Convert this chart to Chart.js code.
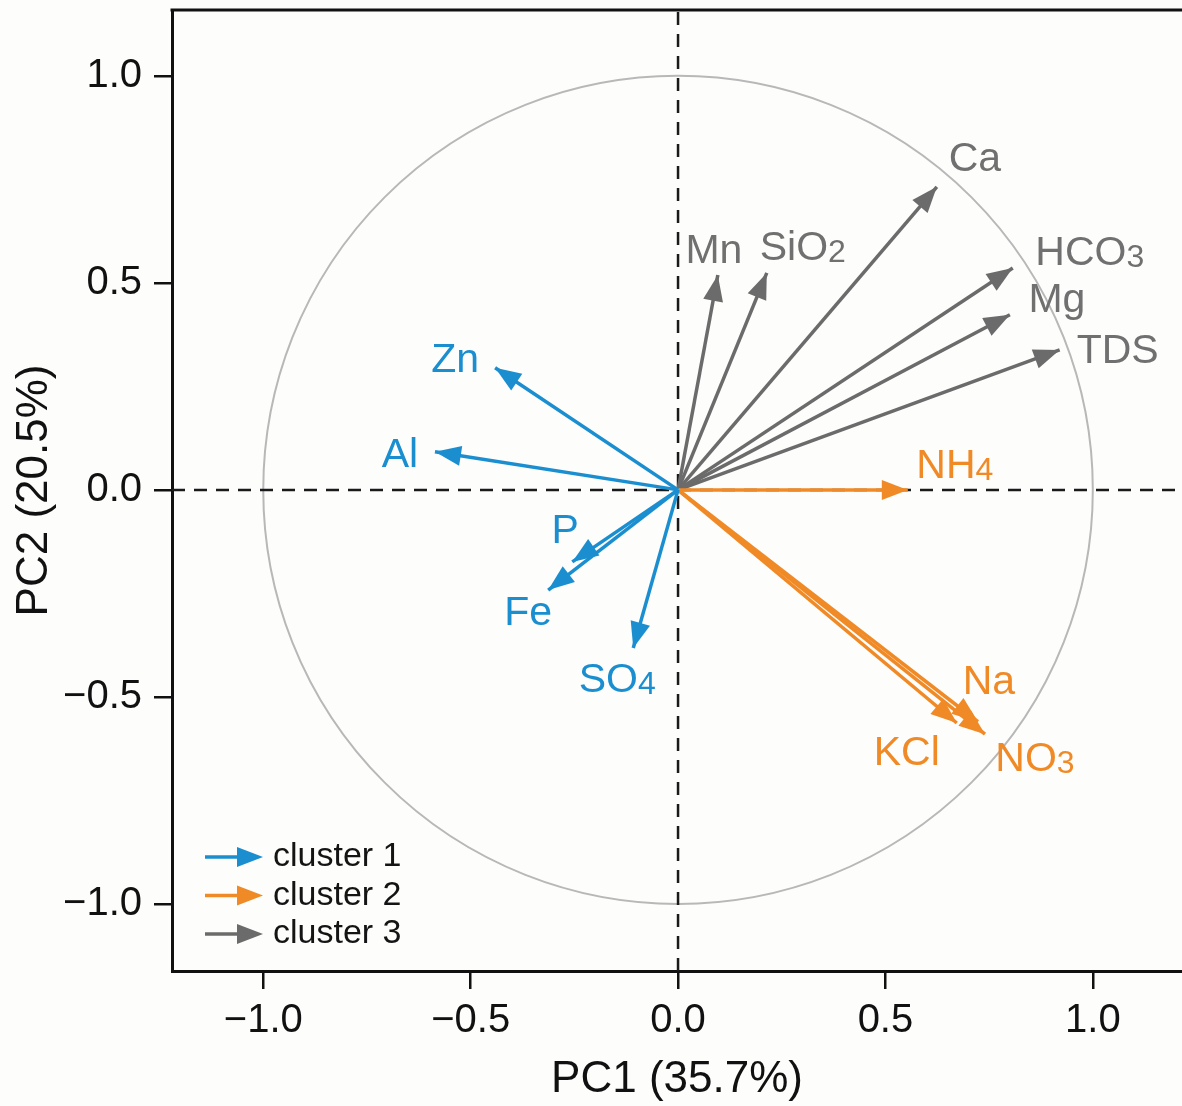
<!DOCTYPE html>
<html lang="en">
<head>
    <meta charset="UTF-8">
    <title>PCA biplot</title>
    <style>
        body { margin: 0; background: #fdfdfc; }
        #wrap { width: 1182px; height: 1106px; }
    </style>
    <script src="https://cdn.jsdelivr.net/npm/chart.js"></script>
</head>
<body>
    <div id="wrap"><canvas id="pca"></canvas></div>

    <script>
        // Loadings
        const variables = ["Zn", "Al", "P", "Fe", "SO4", "NH4", "Na", "KCl", "NO3", "Mn", "SiO2", "Ca", "HCO3", "Mg", "TDS"];
        const pc1 = [-0.441, -0.586, -0.255, -0.313, -0.108, 0.554, 0.723, 0.672, 0.740, 0.096, 0.214, 0.624, 0.807, 0.800, 0.920];
        const pc2 = [0.295, 0.092, -0.174, -0.242, -0.382, 0.000, -0.560, -0.563, -0.590, 0.519, 0.524, 0.732, 0.536, 0.423, 0.338];
        const clusterOf = [1, 1, 1, 1, 1, 2, 2, 2, 2, 3, 3, 3, 3, 3, 3];
        const clusterNames = ["cluster 1", "cluster 2", "cluster 3"];
        const tickValues = [-1.0, -0.5, 0.0, 0.5, 1.0];
        const xRange = [-1.22, 1.215];
        const yRange = [-1.162, 1.159];

        const clusterColors = { 1: "#1b8ed0", 2: "#f08a26", 3: "#6b6b6b" };
        const labelColors = { 1: "#1b8ed0", 2: "#f08a26", 3: "#707070" };

        // label placement relative to arrow tip, in pixels
        const labelOffset = {
            Zn: [-40, -10], Al: [-35, 0], P: [-7, -34], Fe: [-20, 20], SO4: [-16, 29],
            NH4: [47, -27], Na: [11, -43], KCl: [-50, 27], NO3: [50, 22],
            Mn: [-4, -27], SiO2: [36, -28], Ca: [38, -31], HCO3: [77, -18], Mg: [47, -17], TDS: [58, -2]
        };

        const FONT = "'Liberation Sans', Arial, sans-serif";

        const datasets = [];
        // dashed zero lines (higher order = drawn underneath)
        datasets.push({ data: [{ x: xRange[0], y: 0 }, { x: xRange[1], y: 0 }], borderColor: "#1a1a1a", borderWidth: 2.5, borderDash: [13, 9], pointRadius: 0, isGuide: true, order: 10 });
        datasets.push({ data: [{ x: 0, y: yRange[0] }, { x: 0, y: yRange[1] }], borderColor: "#1a1a1a", borderWidth: 2.5, borderDash: [13, 9], pointRadius: 0, isGuide: true, order: 10 });
        // loading arrows
        variables.forEach((name, i) => {
            datasets.push({
                label: name,
                data: [{ x: 0, y: 0 }, { x: pc1[i], y: pc2[i] }],
                borderColor: clusterColors[clusterOf[i]],
                borderWidth: 3.5,
                pointRadius: 0,
                cluster: clusterOf[i],
                order: 1
            });
        });

        function drawHead(ctx, x0, y0, x1, y1, color) {
            const ang = Math.atan2(y1 - y0, x1 - x0);
            const len = 26, half = 10;
            ctx.save();
            ctx.translate(x1, y1);
            ctx.rotate(ang);
            ctx.fillStyle = color;
            ctx.beginPath();
            ctx.moveTo(0, 0);
            ctx.lineTo(-len, -half);
            ctx.lineTo(-len, half);
            ctx.closePath();
            ctx.fill();
            ctx.restore();
        }

        // text with a trailing digit drawn as subscript
        function drawChem(ctx, text, cx, cy, size, color) {
            const m = text.match(/^(.*?)(\d)$/);
            const main = m ? m[1] : text;
            const sub = m ? m[2] : "";
            ctx.save();
            ctx.fillStyle = color;
            ctx.textBaseline = "alphabetic";
            ctx.textAlign = "left";
            ctx.font = size + "px " + FONT;
            const wMain = ctx.measureText(main).width;
            const subSize = Math.round(size * 0.78);
            ctx.font = subSize + "px " + FONT;
            const wSub = sub ? ctx.measureText(sub).width : 0;
            const x = cx - (wMain + wSub) / 2;
            const base = cy + size * 0.36;
            ctx.font = size + "px " + FONT;
            ctx.fillText(main, x, base);
            if (sub) {
                ctx.font = subSize + "px " + FONT;
                ctx.fillText(sub, x + wMain, base + size * 0.05);
            }
            ctx.restore();
        }

        const biplotPlugin = {
            id: "biplot",
            beforeDatasetsDraw(chart) {
                const { ctx, chartArea, scales: { x, y } } = chart;
                // unit circle
                ctx.save();
                ctx.strokeStyle = "#b8b8b8";
                ctx.lineWidth = 2;
                ctx.beginPath();
                const cx = x.getPixelForValue(0), cy = y.getPixelForValue(0);
                ctx.ellipse(cx, cy, x.getPixelForValue(1) - cx, cy - y.getPixelForValue(1), 0, 0, Math.PI * 2);
                ctx.stroke();
                // top frame line
                ctx.strokeStyle = "#111";
                ctx.lineWidth = 3;
                ctx.beginPath();
                ctx.moveTo(chartArea.left - 1.5, chartArea.top);
                ctx.lineTo(chartArea.right, chartArea.top);
                ctx.stroke();
                ctx.restore();
            },
            afterDatasetsDraw(chart) {
                const ctx = chart.ctx;
                chart.data.datasets.forEach((ds, i) => {
                    if (ds.isGuide) return;
                    const pts = chart.getDatasetMeta(i).data;
                    const p0 = pts[0], p1 = pts[1];
                    drawHead(ctx, p0.x, p0.y, p1.x, p1.y, ds.borderColor);
                    const off = labelOffset[ds.label] || [0, 0];
                    drawChem(ctx, ds.label, p1.x + off[0], p1.y + off[1], 41, labelColors[ds.cluster]);
                });

                // legend, bottom left inside the frame
                const lx = 205, ly = 857, gap = 38.5;
                clusterNames.forEach((name, k) => {
                    const yy = ly + k * gap;
                    const col = clusterColors[k + 1];
                    ctx.save();
                    ctx.strokeStyle = col;
                    ctx.lineWidth = 3.5;
                    ctx.beginPath();
                    ctx.moveTo(lx, yy);
                    ctx.lineTo(lx + 40, yy);
                    ctx.stroke();
                    ctx.restore();
                    drawHead(ctx, lx, yy, lx + 58, yy, col);
                    ctx.save();
                    ctx.fillStyle = "#141414";
                    ctx.font = "34px " + FONT;
                    ctx.textBaseline = "middle";
                    ctx.textAlign = "left";
                    ctx.fillText(name, 273, yy);
                    ctx.restore();
                });
            }
        };

        const fmt = v => v.toFixed(1).replace("-", "\u2212");

        new Chart(document.getElementById("pca"), {
            type: "line",
            data: { datasets: datasets },
            plugins: [biplotPlugin],
            options: {
                responsive: true,
                maintainAspectRatio: false,
                animation: false,
                layout: { padding: { top: 10, right: 0, left: 0, bottom: 0 } },
                plugins: { legend: { display: false }, tooltip: { enabled: false } },
                elements: { line: { tension: 0 } },
                scales: {
                    x: {
                        type: "linear",
                        min: xRange[0],
                        max: xRange[1],
                        afterBuildTicks: s => { s.ticks = tickValues.map(v => ({ value: v })); },
                        afterFit: s => { s.height = 135; s.paddingLeft = 0; s.paddingRight = 0; },
                        ticks: { callback: v => fmt(v), color: "#111", font: { family: FONT, size: 40 }, padding: 8, maxRotation: 0, autoSkip: false },
                        grid: { drawOnChartArea: false, drawTicks: true, tickLength: 18, color: "#111", lineWidth: 2.5 },
                        border: { display: true, color: "#111", width: 3 },
                        title: { display: true, text: "PC1 (35.7%)", color: "#111", font: { family: FONT, size: 44 }, padding: { top: 0, bottom: 0 } }
                    },
                    y: {
                        type: "linear",
                        min: yRange[0],
                        max: yRange[1],
                        afterBuildTicks: s => { s.ticks = tickValues.map(v => ({ value: v })); },
                        afterFit: s => { s.width = 172; s.paddingTop = 0; s.paddingBottom = 0; },
                        ticks: { callback: v => fmt(v), color: "#111", font: { family: FONT, size: 40 }, padding: 12, autoSkip: false },
                        grid: { drawOnChartArea: false, drawTicks: true, tickLength: 18, color: "#111", lineWidth: 2.5 },
                        border: { display: true, color: "#111", width: 3 },
                        title: { display: true, text: "PC2 (20.5%)", color: "#111", font: { family: FONT, size: 44 }, padding: { top: 8, bottom: 0 } }
                    }
                }
            }
        });
    </script>
</body>
</html>
